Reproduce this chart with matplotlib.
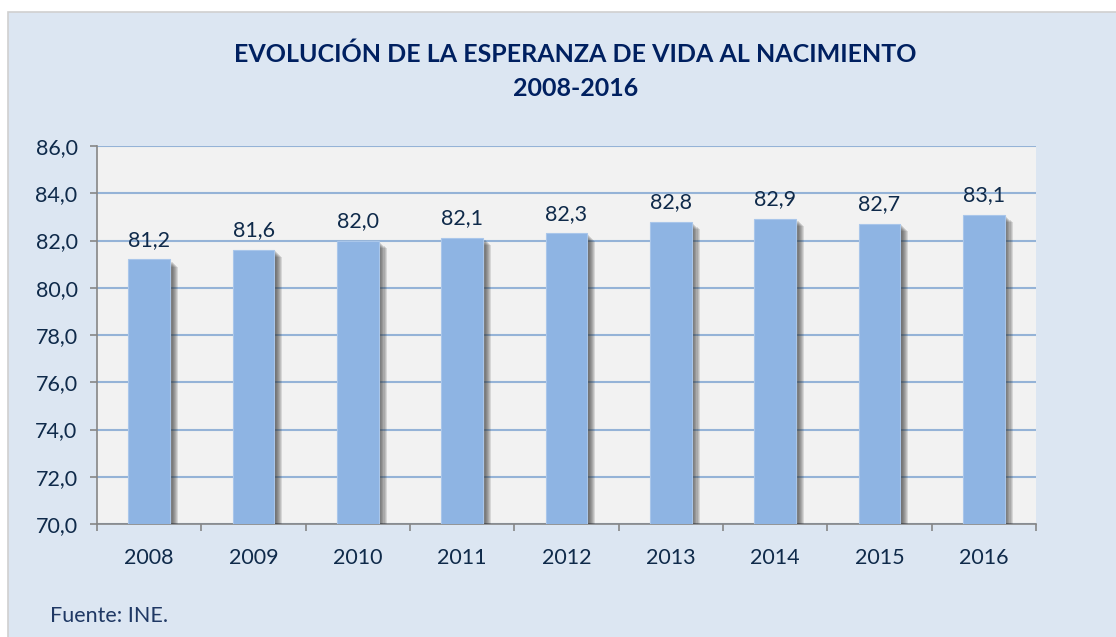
import matplotlib
matplotlib.use("Agg")
import matplotlib.pyplot as plt
import matplotlib.patheffects as pe
from matplotlib.patches import Rectangle
import numpy as np

years = ["2008", "2009", "2010", "2011", "2012", "2013", "2014", "2015", "2016"]
values = [81.2, 81.6, 82.0, 82.1, 82.3, 82.8, 82.9, 82.7, 83.1]
yticks = [70, 72, 74, 76, 78, 80, 82, 84, 86]
title_1 = "EVOLUCIÓN DE LA ESPERANZA DE VIDA AL NACIMIENTO"
title_2 = "2008-2016"
source = "Fuente: INE."

plt.rcParams['font.family'] = ['Lato', 'DejaVu Sans']
W, H = 1116, 637
fig = plt.figure(figsize=(W/100, H/100), dpi=100)
fig.patch.set_facecolor("white")
# chart area
fig.add_artist(Rectangle((7.5/W, -0.01), 1.02 - 7.5/W, 1 - 11.5/H + 0.01, transform=fig.transFigure,
                         facecolor="#DCE6F2", edgecolor="#D0D0D0", linewidth=1.2, zorder=-10))

ax = fig.add_axes([97/W, 1 - 524/H, (1036 - 97)/W, (524 - 146)/H])
ax.set_facecolor("#F2F2F2")
x = np.arange(len(years))
shadow = [pe.SimplePatchShadow(offset=(o, -0.9 * o), shadow_rgbFace="#303030", alpha=0.14)
          for o in (1.0, 1.8, 2.6, 3.4, 4.2, 5.0, 5.8)]
bars = ax.bar(x, values, width=0.4, bottom=0, color="#8EB4E3", edgecolor="#A9C6EA",
              linewidth=0.8, zorder=3, path_effects=shadow + [pe.Normal()])
ax.set_ylim(70, 86)
ax.set_xlim(-0.5, len(years) - 0.5)
ax.set_yticks(yticks)
ax.set_yticklabels([f"{v:.1f}".replace(".", ",") for v in yticks])
ax.yaxis.grid(True, color="#95B3D7", linewidth=1.5, zorder=0)
ax.set_axisbelow(True)
ax.set_xticks(x)
ax.set_xticklabels(years)
ax.set_xticks(np.arange(len(years) + 1) - 0.5, minor=True)
ax.tick_params(axis="x", which="major", length=0, pad=17, labelsize=15.5, labelcolor="#0F2A4A")
ax.tick_params(axis="x", which="minor", length=5, width=1.2, color="#868686", direction="out")
ax.tick_params(axis="y", length=5, width=1.2, color="#868686", labelsize=15.5,
               labelcolor="#0F2A4A", pad=9)
for s in ["top", "right"]:
    ax.spines[s].set_visible(False)
for s in ["left", "bottom"]:
    ax.spines[s].set_color("#868686")
    ax.spines[s].set_linewidth(1.2)

for xi, v in zip(x, values):
    ax.annotate(f"{v:.1f}".replace(".", ","), (xi, v), xytext=(0, 7), textcoords="offset points",
                ha="center", va="bottom", fontsize=15.5, color="#0F2A4A", zorder=5)

fig.text(575.5/W, 1 - 54/H, title_1, ha="center", va="center", fontsize=18, fontweight="bold",
         color="#002060")
fig.text(575.5/W, 1 - 88/H, title_2, ha="center", va="center", fontsize=18, fontweight="bold",
         color="#002060")
fig.text(50/W, 1 - 616/H, source, ha="left", va="center", fontsize=15.5, color="#1F3864")

fig.savefig("out.png", dpi=100, facecolor=fig.get_facecolor())
